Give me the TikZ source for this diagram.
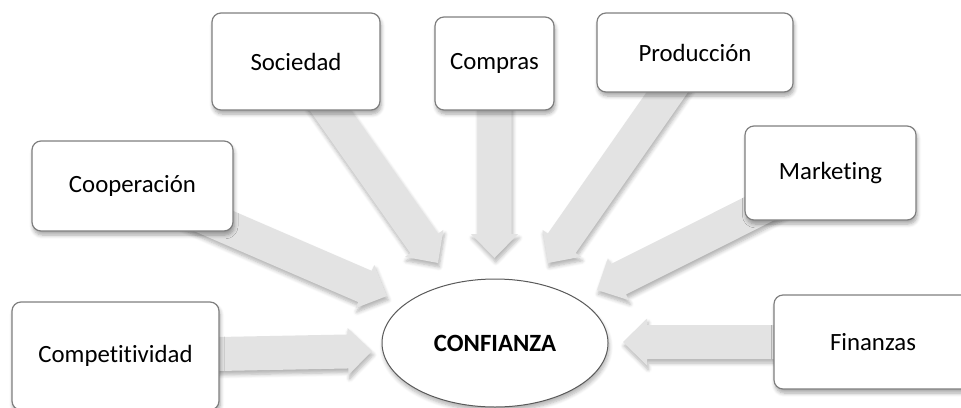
\documentclass[tikz,border=0pt]{standalone}
\usepackage{fontspec}
\setmainfont{Carlito}[Ligatures=NoCommon,RawFeature={-liga;-dlig}]
\usetikzlibrary{calc,shadows,shadows.blur}
\definecolor{arrfill}{HTML}{E3E3E3}
\definecolor{boxline}{HTML}{7F7F7F}
\definecolor{ellline}{HTML}{5A5A5A}
\tikzset{
  box/.style={draw=boxline, line width=0.6pt, fill=white, rounded corners=4.5pt,
    blur shadow={shadow xshift=0.6pt, shadow yshift=-2pt, shadow blur steps=6, shadow opacity=35},
    font=\fontsize{12.4}{15}\selectfont, inner sep=0pt},
  arrsty/.style={fill=arrfill,
    blur shadow={shadow xshift=0.6pt, shadow yshift=-2pt, shadow blur steps=6, shadow opacity=30}},
  ellsty/.style={draw=ellline, line width=0.5pt, fill=white,
    blur shadow={shadow xshift=0.6pt, shadow yshift=-2pt, shadow blur steps=6, shadow opacity=30}},
}
\newcommand\blockarr[2]{%
  \coordinate (hb) at ($(#2)!12pt!(#1)$);
  \path[arrsty] ($(#1)!8.5pt!90:(#2)$) -- ($(hb)!8.5pt!90:(#2)$)
     -- ($(hb)!11.75pt!90:(#2)$) -- (#2) -- ($(hb)!11.75pt!-90:(#2)$)
     -- ($(hb)!8.5pt!-90:(#2)$) -- ($(#1)!8.5pt!-90:(#2)$) -- cycle;
}
\begin{document}
\begin{tikzpicture}[x=0.5pt,y=-0.5pt]
\useasboundingbox (0,0) rectangle (961,407);
\clip (0,0) rectangle (961,407);
% box centres
\coordinate (ccomp) at (115.5,356);
\coordinate (ccoop) at (132.5,186);
\coordinate (csoc) at (296,61.5);
\coordinate (ccpr) at (494.5,63.5);
\coordinate (cprod) at (695,52.5);
\coordinate (cmkt) at (830.5,173);
\coordinate (cfin) at (873,342);
% arrow tips
\coordinate (tcomp) at (372,351);
\coordinate (tcoop) at (387,296);
\coordinate (tsoc) at (438,263);
\coordinate (tcpr) at (494.5,258);
\coordinate (tprod) at (548,263);
\coordinate (tmkt) at (597,290);
\coordinate (tfin) at (623,342);
% arrows
\blockarr{ccomp}{tcomp}
\blockarr{ccoop}{tcoop}
\blockarr{csoc}{tsoc}
\blockarr{ccpr}{tcpr}
\blockarr{cprod}{tprod}
\blockarr{cmkt}{tmkt}
\blockarr{cfin}{tfin}
% boxes
\node[box, minimum width=103.5pt, minimum height=54pt] (comp) at (ccomp) {Competitividad};
\node[box, minimum width=100.5pt, minimum height=45pt] (coop) at (ccoop) {Cooperación};
\node[box, minimum width=84pt, minimum height=48.5pt] (soc) at (csoc) {Sociedad};
\node[box, minimum width=59.5pt, minimum height=46.5pt] (cpr) at (ccpr) {Compras};
\node[box, minimum width=98pt, minimum height=39.5pt] (prod) at (cprod) {Producción};
\node[box, minimum width=85.5pt, minimum height=47pt] (mkt) at (cmkt) {Marketing};
\node[box, minimum width=99pt, minimum height=47pt] (fin) at (cfin) {Finanzas};
% central ellipse
\path[ellsty] (495,343) ellipse [x radius=113, y radius=64];
\node[font=\fontsize{12.4}{15}\selectfont\bfseries] (conf) at (495,343) {CONFIANZA};
\end{tikzpicture}
\end{document}
